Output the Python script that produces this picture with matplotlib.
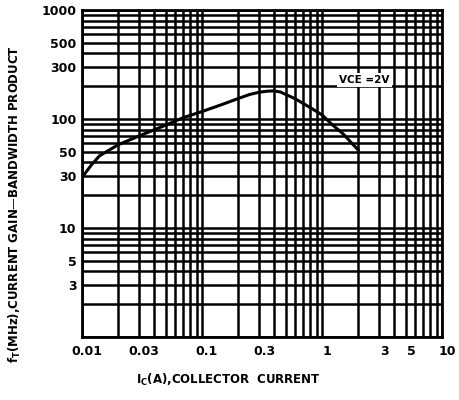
import matplotlib
matplotlib.use("Agg")
import matplotlib.pyplot as plt
from matplotlib.ticker import FixedLocator, LogLocator, NullFormatter
from matplotlib.transforms import ScaledTranslation

# collector current (A) and gain-bandwidth product (MHz)
current = [0.01, 0.012, 0.014, 0.02, 0.03, 0.05, 0.07, 0.1, 0.15, 0.2, 0.25, 0.3,
           0.35, 0.4, 0.45, 0.6, 0.8, 1.0, 1.2, 1.5, 2.0]
ft = [29, 38, 46, 58, 70, 88, 103, 117, 137, 154, 168, 176,
      180, 181, 177, 153, 127, 109, 90, 73, 52]

x_ticks = [0.01, 0.03, 0.1, 0.3, 1, 3, 5, 10]
x_labels = ["0.01", "0.03", "0.1", "0.3", "1", "3", "5", "10"]
y_ticks = [3, 5, 10, 30, 50, 100, 300, 500, 1000]
y_labels = ["3", "5", "10", "30", "50", "100", "300", "500", "1000"]

fig = plt.figure(figsize=(4.6, 4.0), dpi=100)
ax = fig.add_axes([82 / 460, 63 / 400, 360 / 460, 327 / 400])

ax.plot(current, ft, color="black", lw=2.2, solid_joinstyle="round")

ax.set_xscale("log")
ax.set_yscale("log")
ax.set_xlim(0.01, 10)
ax.set_ylim(1, 1000)

ax.xaxis.set_major_locator(FixedLocator(x_ticks))
ax.set_xticklabels(x_labels)
ax.yaxis.set_major_locator(FixedLocator(y_ticks))
ax.set_yticklabels(y_labels)
ax.xaxis.set_minor_locator(LogLocator(base=10, subs=range(1, 10), numticks=20))
ax.yaxis.set_minor_locator(LogLocator(base=10, subs=range(1, 10), numticks=20))
ax.xaxis.set_minor_formatter(NullFormatter())
ax.yaxis.set_minor_formatter(NullFormatter())

ax.grid(True, which="both", color="black", lw=1.8)
ax.tick_params(which="both", length=0, labelsize=9, pad=6)
ax.tick_params(axis="y", pad=4)
for lab in ax.get_xticklabels() + ax.get_yticklabels():
    lab.set_fontweight("bold")
for lab in ax.get_xticklabels():
    lab.set_transform(lab.get_transform() + ScaledTranslation(5 / 100, 0, fig.dpi_scale_trans))
for sp in ax.spines.values():
    sp.set_linewidth(2)

ax.text(2.25, 228, "VCE =2V", fontsize=7.5, fontweight="bold", ha="center", va="center",
        bbox=dict(facecolor="white", edgecolor="none", pad=1.5))

fig.text(15 / 460, 0.49, "$\\mathbf{f_T}$(MHz),CURRENT GAIN\u2014BANDWIDTH PRODUCT",
         rotation=90, fontsize=8.5, fontweight="bold", ha="center", va="center")
fig.text(228 / 460, 0.05, "$\\mathbf{I_C}$(A),COLLECTOR  CURRENT",
         fontsize=8.5, fontweight="bold", ha="center", va="center")

fig.savefig("out.png", dpi=100)
